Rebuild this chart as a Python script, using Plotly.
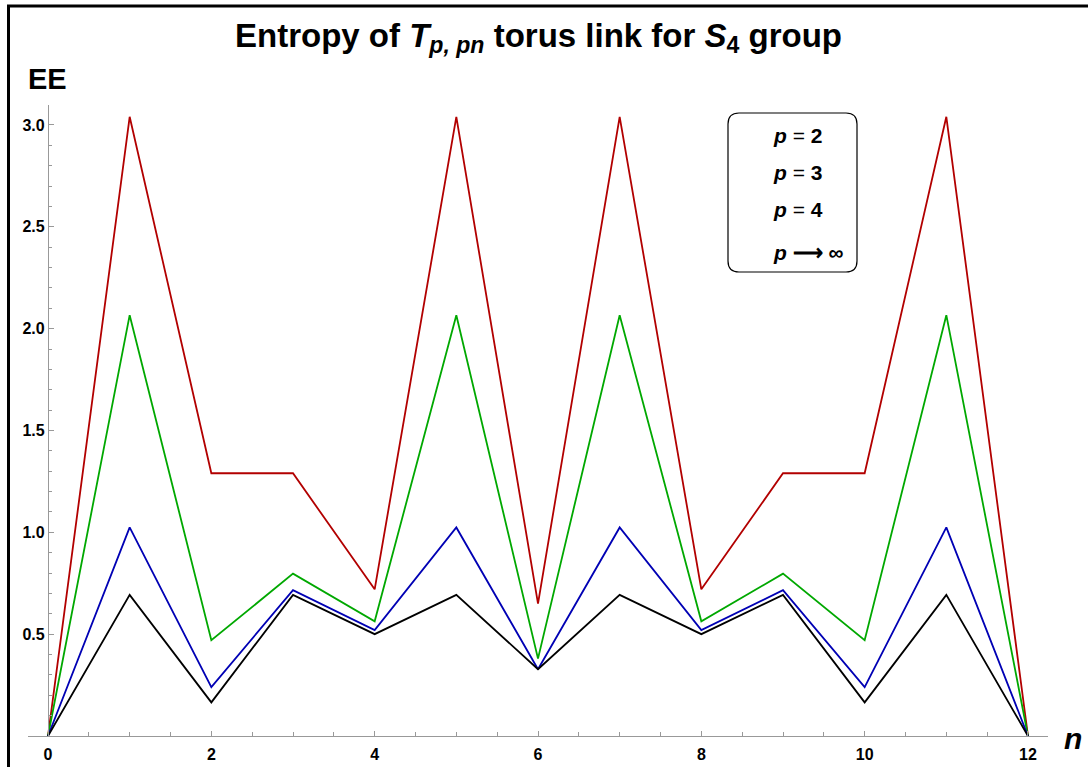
import plotly.graph_objects as go

n_values = [0, 1, 2, 3, 4, 5, 6, 7, 8, 9, 10, 11, 12]
ee_p2 = [0, 3.04, 1.29, 1.29, 0.72, 3.04, 0.65, 3.04, 0.72, 1.29, 1.29, 3.04, 0]
ee_p3 = [0, 2.066, 0.47, 0.797, 0.563, 2.066, 0.38, 2.066, 0.563, 0.797, 0.47, 2.066, 0]
ee_p4 = [0, 1.024, 0.24, 0.716, 0.52, 1.024, 0.328, 1.024, 0.52, 0.716, 0.24, 1.024, 0]
ee_pinf = [0, 0.693, 0.165, 0.693, 0.5, 0.693, 0.328, 0.693, 0.5, 0.693, 0.165, 0.693, 0]

series_names = ["p = 2", "p = 3", "p = 4", "p → ∞"]
series_colors = ["#B20000", "#00A800", "#0000B4", "#000000"]
legend_labels = ["<b><i>p</i></b> = <b>2</b>", "<b><i>p</i></b> = <b>3</b>",
                 "<b><i>p</i></b> = <b>4</b>", "<b><i>p</i> ⟶ ∞</b>"]
y_tick_vals = [0.5, 1.0, 1.5, 2.0, 2.5, 3.0]
y_tick_text = ["0.5", "1.0", "1.5", "2.0", "2.5", "3.0"]
x_tick_vals = [0, 2, 4, 6, 8, 10, 12]
x_tick_text = ["0", "2", "4", "6", "8", "10", "12"]

W, H = 1088, 767
L, R, T, B = 28, 40, 105, 31
pw, ph = W - L - R, H - T - B
xmin, xmax = -0.245, 12.245
ymin, ymax = 0.0, 3.098

def px_x(p):
    return (p - L) / pw

def px_y(p):
    return 1 - (p - T) / ph

fig = go.Figure()
for name, ys, col in zip(series_names, [ee_p2, ee_p3, ee_p4, ee_pinf], series_colors):
    fig.add_trace(go.Scatter(x=n_values, y=ys, mode="lines", name=name,
                             line=dict(color=col, width=1.8), showlegend=False))

FONT = "Liberation Sans, Arial, sans-serif"
tick_font = dict(family=FONT, size=16, color="black")
fig.update_layout(
    width=W, height=H,
    margin=dict(l=L, r=R, t=T, b=B, autoexpand=False),
    paper_bgcolor="white", plot_bgcolor="white",
    title=dict(text="<b>Entropy of <i>T</i><sub><i>p, pn</i></sub> torus link for <i>S</i><sub>4</sub> group</b>",
               x=538.5 / W, xanchor="center", y=1 - 35 / H, yanchor="middle",
               font=dict(family=FONT, size=33, color="black")),
    xaxis=dict(range=[xmin, xmax], showgrid=False, zeroline=False, automargin=False,
               showline=True, linecolor="#999999", linewidth=1.2,
               ticks="inside", ticklen=5, tickcolor="#999999", tickwidth=1,
               tickvals=x_tick_vals, ticktext=[f"<b>{t}</b>" for t in x_tick_text],
               tickfont=tick_font, ticklabelstandoff=4,
               minor=dict(dtick=0.5, tick0=0, ticks="inside", ticklen=4, tickcolor="#999999")),
    yaxis=dict(range=[ymin, ymax], showgrid=False, zeroline=False, automargin=False,
               anchor="free", position=(0 - xmin) / (xmax - xmin),
               showline=True, linecolor="#999999", linewidth=1.2,
               ticks="inside", ticklen=5, tickcolor="#999999", tickwidth=1,
               tickvals=y_tick_vals, ticktext=[f"<b>{t}</b>" for t in y_tick_text],
               tickfont=tick_font,
               minor=dict(dtick=0.1, tick0=0, ticks="inside", ticklen=3, tickcolor="#999999")),
)

# outer frame
fig.add_shape(type="rect", xref="paper", yref="paper",
              x0=px_x(8.5), x1=px_x(1100), y0=px_y(780), y1=px_y(6),
              line=dict(color="black", width=3), fillcolor="rgba(0,0,0,0)", layer="above")

# legend rounded box
bx0, bx1, by0, by1 = px_x(728), px_x(857), px_y(272), px_y(113)
rx, ry = 11 / pw, 11 / ph
path = (f"M {bx0+rx},{by1} L {bx1-rx},{by1} Q {bx1},{by1} {bx1},{by1-ry} "
        f"L {bx1},{by0+ry} Q {bx1},{by0} {bx1-rx},{by0} "
        f"L {bx0+rx},{by0} Q {bx0},{by0} {bx0},{by0+ry} "
        f"L {bx0},{by1-ry} Q {bx0},{by1} {bx0+rx},{by1} Z")
fig.add_shape(type="path", xref="paper", yref="paper", path=path,
              line=dict(color="black", width=1.2), fillcolor="white", layer="above")

legend_y_px = [135, 172, 210, 252]
for lab, yp in zip(legend_labels, legend_y_px):
    fig.add_annotation(text=lab, xref="paper", yref="paper", x=px_x(771), y=px_y(yp),
                       xanchor="left", yanchor="middle", showarrow=False,
                       font=dict(family=FONT, size=21, color="black"))

# axis labels
fig.add_annotation(text="<b>EE</b>", xref="paper", yref="paper", x=px_x(26), y=px_y(79),
                   xanchor="left", yanchor="middle", showarrow=False,
                   font=dict(family=FONT, size=29, color="black"))
fig.add_annotation(text="<b><i>n</i></b>", xref="paper", yref="paper", x=px_x(1073), y=px_y(738),
                   xanchor="center", yanchor="middle", showarrow=False,
                   font=dict(family=FONT, size=30, color="black"))

fig.write_html("out.html")
